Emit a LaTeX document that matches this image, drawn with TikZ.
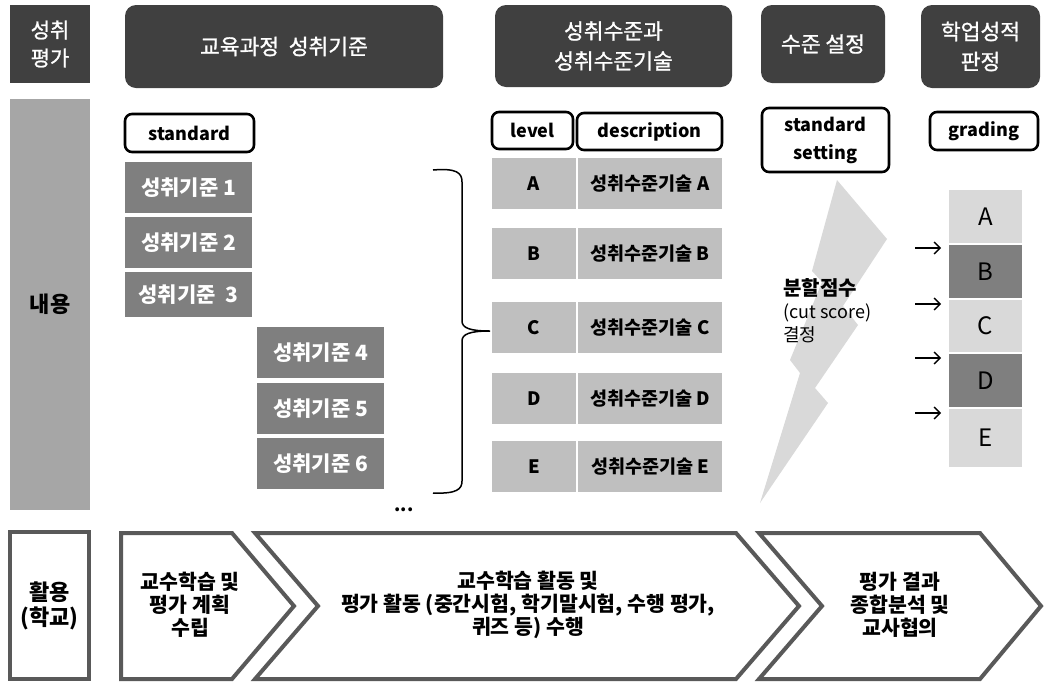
\documentclass[tikz,border=0pt]{standalone}
\usepackage{fontspec}
\setmainfont{Noto Sans CJK KR}
\newfontfamily\hdrfont{Noto Sans CJK KR}[FakeBold=1.1]
\usetikzlibrary{arrows.meta}
\definecolor{hdrgray}{HTML}{404040}
\definecolor{bargray}{HTML}{A6A6A6}
\definecolor{stdgray}{HTML}{7F7F7F}
\definecolor{lvlgray}{HTML}{BFBFBF}
\definecolor{lightgray}{HTML}{D9D9D9}
\definecolor{chevgray}{HTML}{595959}
\tikzset{
 hdrbox/.style={fill=hdrgray, text=white, inner sep=0pt, align=center, font=\hdrfont\fontsize{21.5}{30}\selectfont},
 tagbox/.style={draw=black, line width=2.6pt, rounded corners=7pt, fill=white, inner sep=0pt, align=center, font=\bfseries\fontsize{18}{27}\selectfont},
 stdbox/.style={fill=stdgray, text=white, inner sep=0pt, minimum width=127pt, font=\bfseries\fontsize{21}{24}\selectfont},
 lvlbox/.style={fill=lvlgray, inner sep=0pt, minimum height=51pt, font=\bfseries\fontsize{18.5}{22}\selectfont},
 grdbox/.style={inner sep=0pt, minimum width=73pt, font=\fontsize{24}{28}\selectfont},
 chev/.style={draw=chevgray, line width=4pt, fill=white, line join=miter},
 chevtext/.style={align=center, font=\bfseries\fontsize{20.5}{23}\selectfont},
 cutarrow/.style={-{Straight Barb[length=6pt,width=12pt]}, line width=1.3pt},
}
\begin{document}
\begin{tikzpicture}[x=1pt,y=-1pt]
\useasboundingbox (0,0) rectangle (1044,681);
% ---------- header row ----------
\node[hdrbox, minimum width=80pt, minimum height=78pt, font=\hdrfont\fontsize{21}{28}\selectfont] (h1) at (50,44) {성취\\평가};
\node[hdrbox, rounded corners=11pt, minimum width=318pt, minimum height=83pt] (h2) at (284,46.5) {교육과정~~성취기준};
\node[hdrbox, rounded corners=11pt, minimum width=237pt, minimum height=82pt] (h3) at (613.5,46) {성취수준과\\성취수준기술};
\node[hdrbox, rounded corners=11pt, minimum width=124pt, minimum height=78pt] (h4) at (823,44) {수준 설정};
\node[hdrbox, rounded corners=11pt, minimum width=119pt, minimum height=83pt] (h5) at (980.5,46.5) {학업성적\\판정};
% ---------- content bar ----------
\node[fill=bargray, inner sep=0pt, minimum width=80pt, minimum height=411pt, font=\bfseries\fontsize{22}{26}\selectfont] (content) at (50,304.5) {내용};
% ---------- standards ----------
\node[tagbox, minimum width=129pt, minimum height=38pt] (stdtag) at (189.5,133) {standard};
\node[stdbox, minimum height=51pt] (s1) at (188.5,187.5) {성취기준 1};
\node[stdbox, minimum height=51pt] (s2) at (188.5,242.5) {성취기준 2};
\node[stdbox, minimum height=45pt] (s3) at (188.5,294.5) {성취기준~~3};
\node[stdbox, minimum height=51pt] (s4) at (320.5,352.5) {성취기준 4};
\node[stdbox, minimum height=51pt] (s5) at (320.5,408.5) {성취기준 5};
\node[stdbox, minimum height=51pt] (s6) at (320.5,463.5) {성취기준 6};
\node[font=\bfseries\fontsize{18}{20}\selectfont, inner sep=0pt] (dots) at (404,510) {...};
% brace
\draw[line width=1.5pt] (433,170) .. controls (457,168) and (462,173) .. (462,182) -- (462,321)
  .. controls (462,328) and (470,331) .. (490,331)
  .. controls (470,331) and (462,334) .. (462,341) -- (462,481)
  .. controls (462,489) and (457,494) .. (433,493);
% ---------- levels ----------
\node[tagbox, minimum width=81pt, minimum height=37pt] (lvltag) at (532.5,130.5) {level};
\node[tagbox, minimum width=145pt, minimum height=37pt] (desctag) at (649.5,131.5) {description};
\foreach \n/\y in {A/183.5,B/253.5,C/327.5,D/398.5,E/466.5}{
  \node[lvlbox, minimum width=84pt] (l\n) at (534,\y) {\n};
  \node[lvlbox, minimum width=144pt] (d\n) at (650,\y) {성취수준기술 \n};
}
% ---------- standard setting ----------
\node[tagbox, minimum width=127pt, minimum height=64pt, font=\bfseries\fontsize{18}{28}\selectfont] (settag) at (825.5,140) {standard\\setting};
\fill[lightgray] (837,180) -- (887,239) -- (843,306) -- (858,325) -- (815,388) -- (828,403)
  -- (760,503) -- (800,373) -- (790,360) -- (822,282) -- (812,271) -- cycle;
\node[anchor=north west, align=left, inner sep=0pt, font=\fontsize{18}{23}\selectfont] (cut) at (783,278)
  {{\bfseries\fontsize{20}{23}\selectfont 분할점수}\\(cut score)\\결정};
% ---------- grading ----------
\node[tagbox, minimum width=108pt, minimum height=38pt] (grdtag) at (984,131) {grading};
\node[grdbox, fill=lightgray, minimum height=53pt] (gA) at (985.5,216.5) {A};
\node[grdbox, fill=stdgray, minimum height=53pt] (gB) at (985.5,271.5) {B};
\node[grdbox, fill=lightgray, minimum height=52pt] (gC) at (985.5,326) {C};
\node[grdbox, fill=stdgray, minimum height=53pt] (gD) at (985.5,380.5) {D};
\node[grdbox, fill=lightgray, minimum height=58pt] (gE) at (985.5,438) {E};
\foreach \i/\y in {1/248,2/304,3/358,4/413}{
  \coordinate (as\i) at (915,\y);
  \coordinate (ae\i) at (941,\y);
  \draw[cutarrow] (as\i) -- (ae\i);
}
% ---------- bottom row ----------
\node[draw=chevgray, line width=4pt, fill=white, inner sep=0pt, minimum width=79pt, minimum height=147pt,
  align=center, font=\bfseries\fontsize{22}{25}\selectfont] (use) at (49.5,605.5) {활용\\(학교)};
\draw[chev] (121,533) -- (232,533) -- (294,606) -- (232,679) -- (121,679) -- cycle;
\draw[chev] (255,533) -- (736,533) -- (799,606) -- (736,679) -- (255,679) -- (318,606) -- cycle;
\draw[chev] (759,533) -- (980,533) -- (1041,606) -- (980,679) -- (759,679) -- (822,606) -- cycle;
\node[chevtext] (c1) at (190,605) {교수학습 및\\평가 계획\\수립};
\node[chevtext] (c2) at (528,605) {교수학습 활동 및\\평가 활동 (중간시험, 학기말시험, 수행 평가,\\퀴즈 등) 수행};
\node[chevtext] (c3) at (900,605) {평가 결과\\종합분석 및\\교사협의};
\end{tikzpicture}
\end{document}
